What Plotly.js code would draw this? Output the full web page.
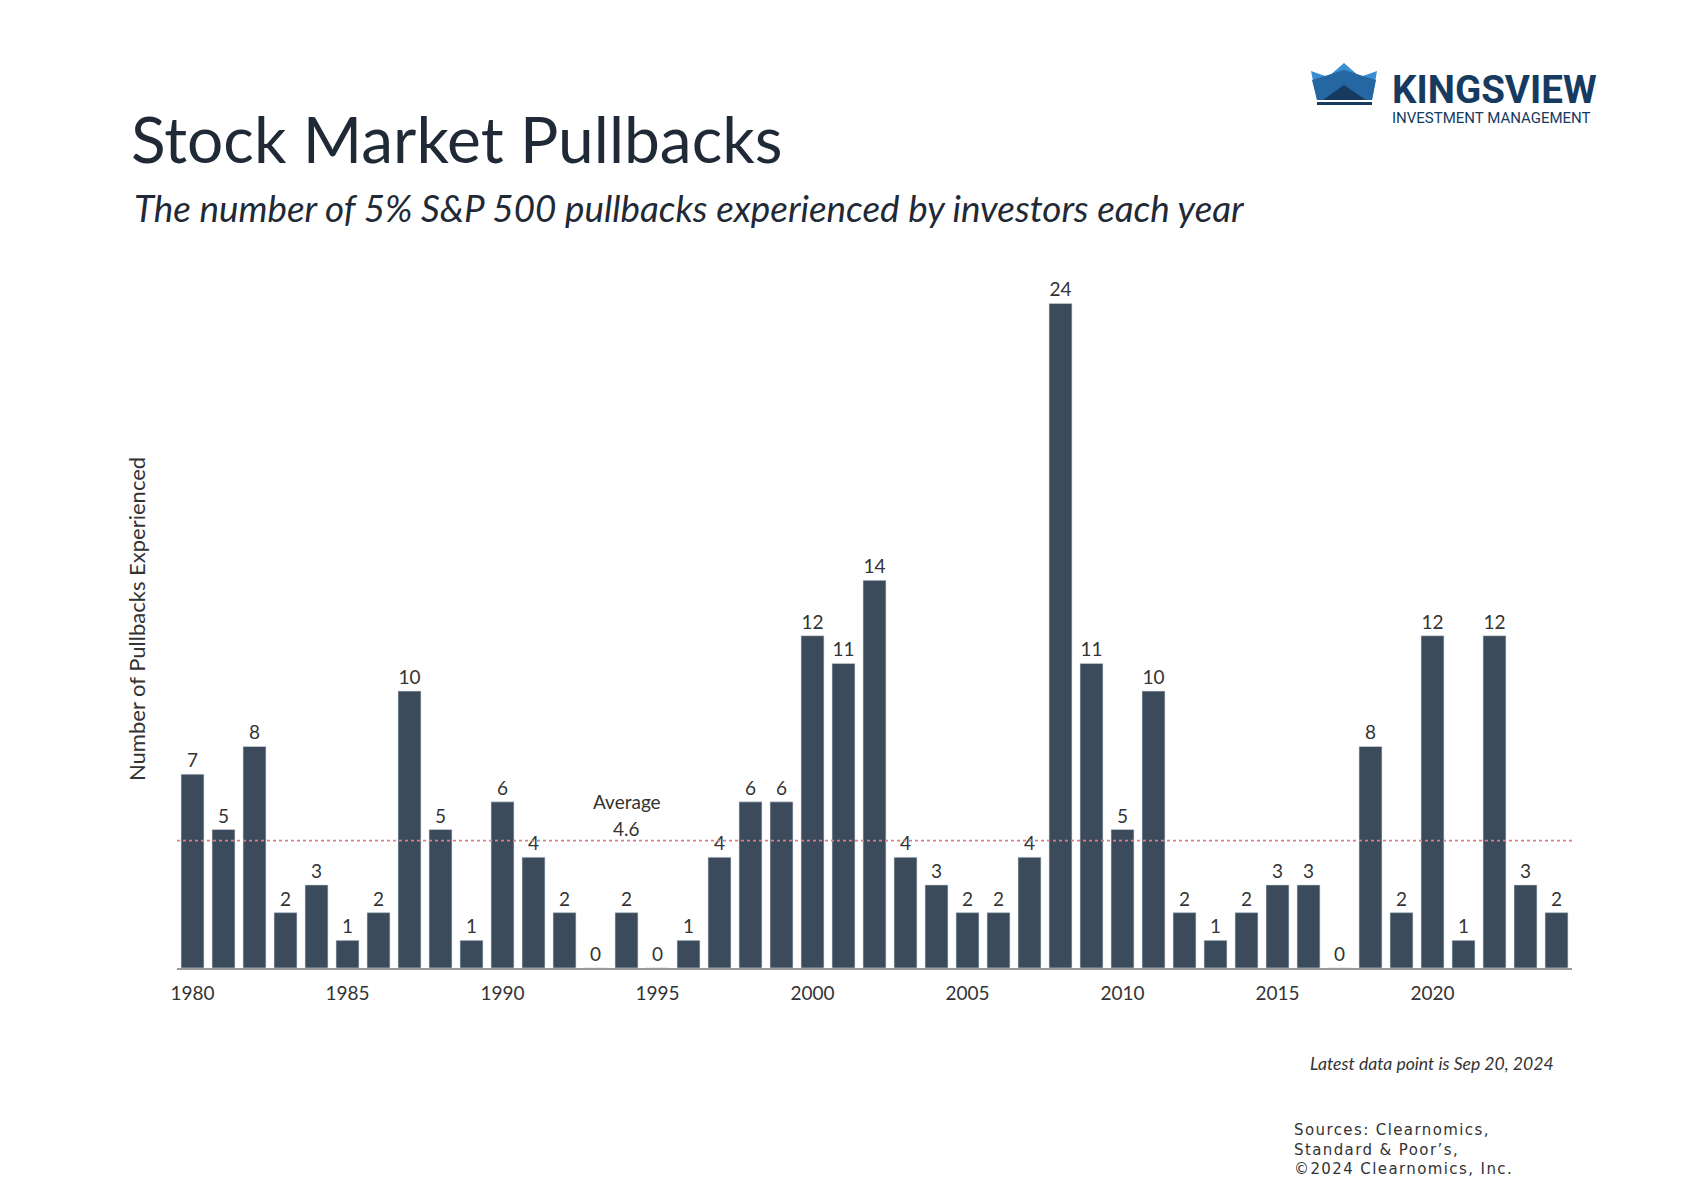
<!DOCTYPE html>
<html>
<head>
<meta charset="utf-8">
<script src="https://cdn.plot.ly/plotly-3.0.1.min.js"></script>
<style>
html,body{margin:0;padding:0;background:#fff;}
#chart{width:1704px;height:1200px;}
</style>
</head>
<body>
<div id="chart"></div>
<script>
// ---- data ----
const years = [1980,1981,1982,1983,1984,1985,1986,1987,1988,1989,1990,1991,1992,1993,1994,1995,1996,1997,1998,1999,2000,2001,2002,2003,2004,2005,2006,2007,2008,2009,2010,2011,2012,2013,2014,2015,2016,2017,2018,2019,2020,2021,2022,2023,2024];
const pullbacks = [7,5,8,2,3,1,2,10,5,1,6,4,2,0,2,0,1,4,6,6,12,11,14,4,3,2,2,4,24,11,5,10,2,1,2,3,3,0,8,2,12,1,12,3,2];
const tickYears = [1980,1985,1990,1995,2000,2005,2010,2015,2020];
const tickLabels = ["1980","1985","1990","1995","2000","2005","2010","2015","2020"];
const averageValue = 4.6;
const averageLabel = "Average";
const averageYear = 1994;

// ---- layout helpers (pixel -> paper) ----
const L = 177, R = 1572, T = 248, B = 968;
const W = 1704, H = 1200;
const px = x => (x - L) / (R - L);
const py = y => (B - y) / (B - T);
function path(pts){
  return 'M' + pts.map(p => px(p[0]) + ',' + py(p[1])).join(' L') + ' Z';
}

const FONT = 'Lato, "Noto Sans", sans-serif';
const TXT = '#333333';

const trace = {
  type: 'bar',
  x: years,
  y: pullbacks,
  text: pullbacks.map(String),
  textposition: 'outside',
  cliponaxis: false,
  textfont: {family: FONT, size: 19, color: TXT},
  marker: {color: '#3b4b5c', line: {color: '#d5dce3', width: 0.6}},
  hoverinfo: 'x+y'
};

const layout = {
  width: W, height: H,
  paper_bgcolor: '#ffffff',
  plot_bgcolor: '#ffffff',
  margin: {l: L, r: W - R, t: T, b: H - B, pad: 0},
  bargap: 0.26,
  showlegend: false,
  font: {family: FONT, color: TXT},
  title: {
    text: 'Stock Market Pullbacks',
    font: {family: FONT, size: 64, color: '#1f2a36'},
    xref: 'container', yref: 'container',
    x: 131 / W, xanchor: 'left',
    y: 1 - 141 / H, yanchor: 'middle'
  },
  xaxis: {
    range: [1979.5, 2024.5],
    tickvals: tickYears,
    ticktext: tickLabels,
    tickfont: {family: FONT, size: 19, color: TXT},
    ticklabelstandoff: 7,
    showline: true, linecolor: '#9a9a9a', linewidth: 2,
    ticks: '', showgrid: false, zeroline: false,
    fixedrange: true
  },
  yaxis: {
    range: [0, 26],
    showticklabels: false, showgrid: false, zeroline: false,
    showline: false, ticks: '', fixedrange: true
  },
  shapes: [
    {type: 'line', xref: 'paper', yref: 'y', x0: 0, x1: 1, y0: averageValue, y1: averageValue,
     line: {color: '#e07b88', width: 1.6, dash: 'dot'}},
    // crown logo
    {type: 'path', xref: 'paper', yref: 'paper', path: path([[1311,71],[1328,77],[1344,63],[1360,77],[1377,71],[1372,100],[1317,100]]),
     fillcolor: '#3a8fd2', line: {width: 0}},
    {type: 'path', xref: 'paper', yref: 'paper', path: path([[1312,80],[1344,70],[1376,80],[1372,100],[1317,100]]),
     fillcolor: '#2467a3', line: {width: 0}},
    {type: 'path', xref: 'paper', yref: 'paper', path: path([[1323,100],[1344,85],[1366,100]]),
     fillcolor: '#163a60', line: {width: 0}},
    {type: 'path', xref: 'paper', yref: 'paper', path: path([[1317,102],[1372,102],[1372,105],[1317,105]]),
     fillcolor: '#163a60', line: {width: 0}}
  ],
  annotations: [
    {text: 'The number of 5% S&P 500 pullbacks experienced by investors each year',
     xref: 'paper', yref: 'paper', x: px(132), y: py(208), xanchor: 'left', yanchor: 'middle',
     showarrow: false, font: {family: FONT, size: 36.8, color: '#1f2a36', style: 'italic'}},
    {text: 'Number of Pullbacks Experienced', textangle: -90,
     xref: 'paper', yref: 'paper', x: px(136), y: py(619), xanchor: 'center', yanchor: 'middle',
     showarrow: false, font: {family: FONT, size: 22, color: TXT}},
    {text: averageLabel, xref: 'x', yref: 'paper', x: averageYear, y: py(801),
     xanchor: 'center', yanchor: 'middle', showarrow: false, font: {family: FONT, size: 19, color: TXT}},
    {text: String(averageValue), xref: 'x', yref: 'paper', x: averageYear, y: py(828),
     xanchor: 'center', yanchor: 'middle', showarrow: false, font: {family: FONT, size: 19, color: TXT}},
    {text: 'Latest data point is Sep 20, 2024', xref: 'paper', yref: 'paper', x: px(1556), y: py(1063),
     xanchor: 'right', yanchor: 'middle', showarrow: false,
     font: {family: FONT, size: 17.6, color: TXT, style: 'italic'}},
    {text: '<span style="letter-spacing:1.4px">Sources: Clearnomics,</span><br><span style="letter-spacing:1.4px">Standard &amp; Poor’s,</span><br><span style="letter-spacing:1.4px">©2024 Clearnomics, Inc.</span>', align: 'left',
     xref: 'paper', yref: 'paper', x: px(1292), y: py(1119), xanchor: 'left', yanchor: 'top', showarrow: false,
     font: {family: '"DejaVu Sans", sans-serif', size: 15, color: TXT}},
    {text: '<b>KINGSVIEW</b>', xref: 'paper', yref: 'paper', x: px(1390), y: py(90), xanchor: 'left', yanchor: 'middle',
     showarrow: false, font: {family: 'Roboto, sans-serif', size: 38.5, color: '#163a60'}},
    {text: 'INVESTMENT MANAGEMENT', xref: 'paper', yref: 'paper', x: px(1390), y: py(118), xanchor: 'left', yanchor: 'middle',
     showarrow: false, font: {family: 'Roboto, sans-serif', size: 15, color: '#163a60'}}
  ]
};

Plotly.newPlot('chart', [trace], layout, {displayModeBar: false, staticPlot: true});
</script>
</body>
</html>
